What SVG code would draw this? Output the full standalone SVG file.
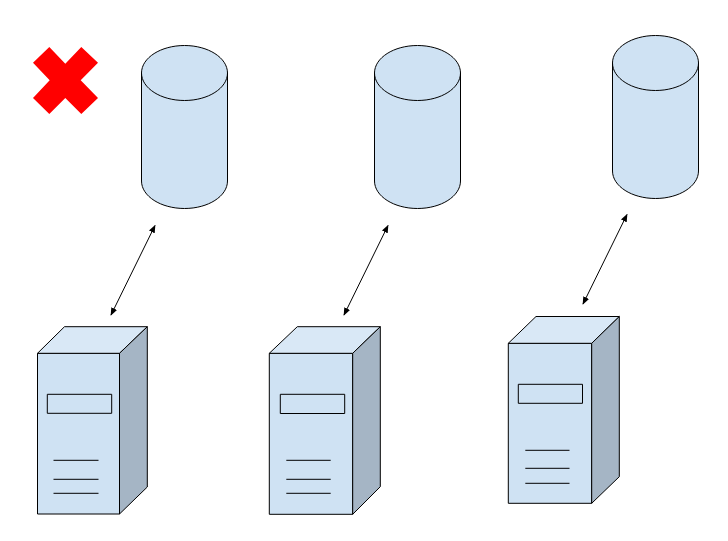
<svg xmlns="http://www.w3.org/2000/svg" width="728" height="541" viewBox="0 0 728 541">
<style>
.s{stroke:#000;stroke-width:1;stroke-linejoin:round}
.b{fill:#cfe2f3}
.t{fill:#d9e8f6}
.d{fill:#a5b5c5}
.n{fill:none}
.c{fill:none;stroke:#000;stroke-width:1;marker-start:url(#a);marker-end:url(#a)}
</style>
<defs>
<marker id="a" viewBox="0 0 10 8" refX="9" refY="4" markerWidth="8" markerHeight="6.4" markerUnits="userSpaceOnUse" orient="auto-start-reverse"><path d="M0 0L10 4L0 8Z" fill="#000"/></marker>
<g id="cyl"><path class="s b" d="M141.500 73C141.500 57.800 160.800 45.500 184.500 45.500S227.500 57.800 227.500 73V181C227.500 196.200 208.200 208.500 184.500 208.500S141.500 196.200 141.500 181Z"/><path class="s n" d="M141.500 73C141.500 88.200 160.800 100.500 184.500 100.500S227.500 88.200 227.500 73"/></g>
</defs>
<g id="connectors">
<path class="c" d="M155 225.500L111 315"/>
<path class="c" d="M388 225.500L344 315"/>
<path class="c" d="M627 214.500L583 304"/>
</g>
<g id="cross"><path fill="#f00" d="M49.300 47L65.300 63.700L81.300 47L98 62.700L80.700 80.300L98 98L81.300 114L65.300 98L49.300 114L33 98L49.700 80.300L33 62.700Z"/></g>
<g id="db1"><use href="#cyl"/></g>
<g id="db2"><use href="#cyl" x="233"/></g>
<g id="db3"><use href="#cyl" x="471" y="-10"/></g>
<g id="server1">
<path class="s b" d="M37.500 353.300H119.500V514H37.500Z"/>
<path class="s t" d="M37.500 353.300L64.500 326.700H147.300L119.500 353.300Z"/>
<path class="s d" d="M119.500 353.300L147.300 326.700V487L119.500 514Z"/>
<path class="s b" d="M47.300 394.300H111.700V413.300H47.300Z"/>
<path class="s n" d="M53.500 460.300H98.500M53.500 479.300H98.500M53.500 493.300H98.500"/>
</g>
<g id="server2">
<path class="s b" d="M269.300 353.300H352.700V514.300H269.300Z"/>
<path class="s t" d="M269.300 353.300L297.300 326.700H380.300L352.700 353.300Z"/>
<path class="s d" d="M352.700 353.300L380.300 326.700V486.700L352.700 514.300Z"/>
<path class="s b" d="M280.300 394.300H344.700V413.500H280.300Z"/>
<path class="s n" d="M286.300 460.300H330.700M286.300 479.300H330.700M286.300 493.300H330.700"/>
</g>
<g id="server3">
<path class="s b" d="M508.300 343.300H591.700V503.300H508.300Z"/>
<path class="s t" d="M508.300 343.300L536 316.500H619.300L591.700 343.300Z"/>
<path class="s d" d="M591.700 343.300L619.300 316.500V476.700L591.700 503.300Z"/>
<path class="s b" d="M518.300 384.300H582.500V403.300H518.300Z"/>
<path class="s n" d="M525.300 450.300H569.500M525.300 468.300H569.500M525.300 483.300H569.500"/>
</g>
</svg>
